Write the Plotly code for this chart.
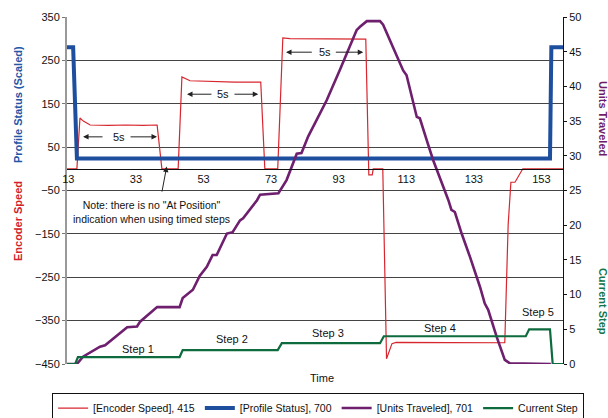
import plotly.graph_objects as go

# ---------------- data ----------------
enc_t = [12.6, 15.53, 16.43, 17.44, 19.45, 24.98, 30.01, 35.04, 39.27, 40.68, 45.5, 46.61, 49.02,
         55.16, 62.2, 69.94, 71.15, 74.97, 76.48, 78.59, 90.37, 101.03, 101.93, 102.94, 103.24,
         106.06, 107.17, 108.78, 109.99, 125.57, 142.17, 143.17, 143.98, 145.19, 147.5, 159.4]
enc_v = [0, 0, 117, 110, 101, 100, 101, 100, 101, 0, 0, 212, 203,
         201, 200, 200, 0, 0, 302, 300, 300, 299, -14, -14, 0,
         0, -438, -403, -400, -400, -401, -129, -31, -31, 0, 0]

prof_t = [12.6, 14.42, 15.53, 155.55, 155.95, 159.4]
prof_v = [280, 280, 24, 24, 280, 280]

units_t = [12.6, 15.53, 17.34, 22.37, 23.87, 30.41, 33.33, 34.23, 39.27, 45.93, 46.84, 49.86,
           51.87, 53.98, 55.7, 56.9, 59.93, 61.62, 63.81, 64.72, 68.84, 69.75, 75.17, 77.59,
           80.6, 82.0, 84.0, 88.45, 89.46, 93.38, 98.31, 99.32, 101.33, 105.25, 106.16, 112.09,
           113.1, 116.12, 117.03, 119.04, 120.95, 125.48, 126.38, 127.39, 129.4, 131.82, 134.84,
           136.25, 137.26, 139.77, 142.17, 143.68, 155.82]
units_v = [0, 0, 1.05, 2.5, 2.7, 5.3, 5.4, 6.1, 8.2, 8.2, 9.5, 10.7,
           12.7, 14.0, 15.7, 15.7, 18.8, 19.0, 20.7, 21.0, 23.6, 24.4, 24.6, 26.5,
           30.3, 30.4, 32.8, 37.1, 38.0, 42.4, 48.1, 48.6, 49.4, 49.4, 48.9, 42.3,
           41.6, 35.6, 35.4, 32.3, 29.4, 23.6, 22.2, 21.9, 18.8, 15.5, 11.1,
           8.7, 7.8, 3.9, 0.6, 0.1, 0]

step_t = [12.6, 15.03, 15.83, 45.93, 46.84, 74.97, 76.18, 105.25, 106.36, 148.38, 149.38,
          155.55, 156.35, 160.5]
step_v = [0, 0, 1, 1, 2, 2, 3, 3, 4, 4, 5, 5, 0, 0]

x_ticks = [13, 33, 53, 73, 93, 113, 133, 153]
step_labels = ["Step 1", "Step 2", "Step 3", "Step 4", "Step 5"]
step_label_t = [33.71, 61.43, 89.83, 122.97, 151.96]
step_label_v = [2.16, 3.6, 4.5, 5.14, 7.54]

# ---------------- style ----------------
RED = "#D7262E"
BLUE = "#1E4F9F"
PURPLE = "#6E1F6E"
GREEN = "#0E6B3E"
FONT = "Liberation Sans, Arial, sans-serif"
X_RANGE = [12.6, 159.4]

fig = go.Figure()
fig.add_trace(go.Scatter(x=enc_t, y=enc_v, mode="lines", name="[Encoder Speed], 415",
                         line=dict(color=RED, width=1.2), yaxis="y"))
fig.add_trace(go.Scatter(x=prof_t, y=prof_v, mode="lines", name="[Profile Status], 700",
                         line=dict(color=BLUE, width=4), yaxis="y"))
fig.add_trace(go.Scatter(x=units_t, y=units_v, mode="lines", name="[Units Traveled], 701",
                         line=dict(color=PURPLE, width=2.6), yaxis="y2"))
fig.add_trace(go.Scatter(x=step_t, y=step_v, mode="lines", name="Current Step",
                         line=dict(color=GREEN, width=2.2), yaxis="y2"))

ann = []
# step labels
for txt, t, v in zip(step_labels, step_label_t, step_label_v):
    ann.append(dict(x=t, y=v, xref="x", yref="y2", text=txt, showarrow=False,
                    font=dict(size=11, color="#111")))

# 5s timing arrows: (text_t, y, left_head, left_tail, right_tail, right_head)
timers = [(27.9, 73.7, 17.35, 23.56, 30.96, 39.24),
          (58.86, 172, 48.12, 55.8, 61.73, 69.21),
          (88.95, 268.9, 77.41, 85.5, 91.72, 100.28)]
for tt, yy, lh, lt, rt, rh in timers:
    ann.append(dict(x=tt, y=yy, xref="x", yref="y", text="5s", showarrow=False,
                    font=dict(size=11, color="#111")))
    for head, tail in ((lh, lt), (rh, rt)):
        ann.append(dict(x=head, y=yy, xref="x", yref="y", ax=tail, ay=yy, axref="x", ayref="y",
                        text="", showarrow=True, arrowhead=2, arrowsize=1.1, arrowwidth=1,
                        arrowcolor="#222"))

# note
ann.append(dict(x=37.47, y=-100, xref="x", yref="y",
                text='Note: there is no "At Position"<br>indication when using timed steps',
                showarrow=False, font=dict(size=10.5, color="#111")))
ann.append(dict(x=42.11, y=5.3, xref="x", yref="y", ax=40.63, ay=-56, axref="x", ayref="y",
                text="", showarrow=True, arrowhead=2, arrowsize=1.1, arrowwidth=1, arrowcolor="#222"))

# axis titles
def title(x, y, text, angle, color):
    return dict(x=x, y=y, xref="paper", yref="paper", text=text, textangle=angle,
                xanchor="center", yanchor="middle", showarrow=False,
                font=dict(size=11, color=color))

ann.append(title(0.5135, -0.041, "Time", 0, "#111"))
ann.append(title(-0.0988, 0.749, "<b>Profile Status (Scaled)</b>", -90, "#2356A6"))
ann.append(title(-0.0988, 0.412, "<b>Encoder Speed</b>", -90, "#D3202A"))
ann.append(title(1.0806, 0.706, "<b>Units Traveled</b>", 90, "#6F1D6B"))
ann.append(title(1.0806, 0.179, "<b>Current Step</b>", 90, "#11744A"))

fig.update_layout(
    width=608, height=418,
    margin=dict(l=67, r=45, t=17, b=54, autoexpand=False),
    paper_bgcolor="white", plot_bgcolor="white",
    font=dict(family=FONT, size=11, color="#111"),
    showlegend=True,
    legend=dict(orientation="h", x=-0.03, xanchor="left", y=-0.127, yanchor="middle",
                bordercolor="#111", borderwidth=1, font=dict(size=10.5, color="#111"),
                itemwidth=30, tracegroupgap=0),
    xaxis=dict(range=X_RANGE, anchor="free", position=0.5625, tickvals=x_ticks,
               showgrid=False, showline=True, linecolor="#111", linewidth=1, ticks="",
               zeroline=False, tickfont=dict(size=11, color="#111")),
    xaxis2=dict(range=X_RANGE, overlaying="x", anchor="y", side="bottom", showgrid=False,
                showline=True, linecolor="#999", linewidth=2, showticklabels=False,
                ticks="", zeroline=False),
    yaxis=dict(range=[-450, 350], tick0=50, dtick=100, showgrid=True, gridcolor="#444",
               gridwidth=1, zeroline=False, showline=True, linecolor="#999", linewidth=2,
               ticks="outside", ticklen=3, tickcolor="#777",
               tickfont=dict(size=11, color="#111")),
    yaxis2=dict(range=[0, 50], dtick=5, overlaying="y", side="right", showgrid=False,
                zeroline=False, showline=True, linecolor="#111", linewidth=1,
                ticks="outside", ticklen=3, tickcolor="#111",
                tickfont=dict(size=11, color="#111")),
    annotations=ann,
)

fig.write_html("out.html", config={"displayModeBar": False},
               post_script="document.body.style.margin='0';")
